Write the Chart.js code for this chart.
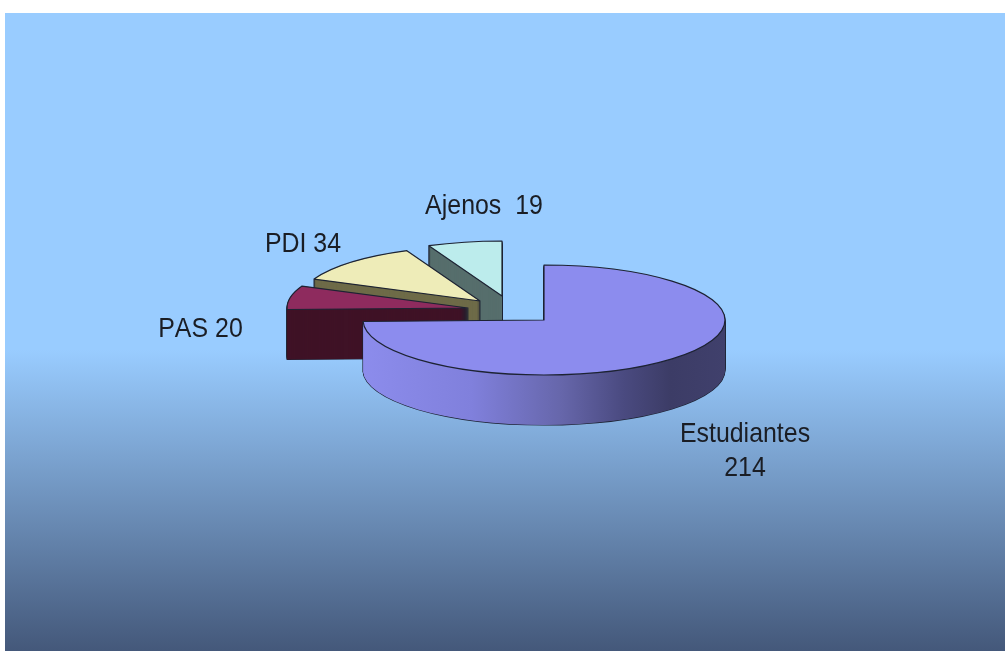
<!DOCTYPE html>
<html lang="en">
<head>
    <meta charset="UTF-8">
    <title>Estudiantes, PAS, PDI, Ajenos</title>
    <script src="https://cdn.jsdelivr.net/npm/chart.js"></script>
    <style>
        html, body { margin: 0; padding: 0; background: #fff; overflow: hidden; }
        canvas { display: block; filter: blur(0.6px); }
    </style>
</head>
<body>
    <canvas id="pieChart" width="1005" height="651"></canvas>

    <script>
        const categories = ['Estudiantes', 'PAS', 'PDI', 'Ajenos'];
        const values = [214, 20, 34, 19];
        const labelTexts = [['Estudiantes', '214'], ['PAS 20'], ['PDI 34'], ['Ajenos  19']];
        const topColors = ['#8c8cee', '#8e2b5e', '#eeecb8', '#bcecec'];
        const sideColors = ['#8c8cee', '#3f1226', '#6e6b48', '#566e6c'];

        // how the picture is squashed and pulled apart, in screen pixels
        const squash = 55 / 181;
        const depth = 50;
        const explodeX = [0, -76, -64, -42];
        const explodeY = [0, -12, -19, -24];
        const labelX = [745, 200.5, 303, 484];
        const labelY = [434, 329, 244, 206];

        function slicePath(ctx, arc, i, drop) {
            ctx.save();
            ctx.translate(arc.x + explodeX[i], arc.y + explodeY[i] + drop);
            ctx.scale(1, squash);
            ctx.beginPath();
            ctx.moveTo(0, 0);
            ctx.arc(0, 0, arc.outerRadius, arc.startAngle, arc.endAngle);
            ctx.closePath();
            ctx.restore();
        }

        function rimFill(ctx, arc) {
            const left = arc.x - arc.outerRadius;
            const width = arc.outerRadius * 2;
            const g = ctx.createLinearGradient(left, 0, left + width, 0);
            g.addColorStop(0, '#8c8cec');
            g.addColorStop(0.3, '#8080dc');
            g.addColorStop(0.55, '#6666aa');
            g.addColorStop(0.72, '#4a4a80');
            g.addColorStop(0.85, '#3c3c66');
            g.addColorStop(1, '#40406c');
            return g;
        }

        const pie3d = {
            id: 'pie3d',
            beforeDraw(chart) {
                const ctx = chart.ctx;
                const g = ctx.createLinearGradient(0, 350, 0, 651);
                g.addColorStop(0, '#99ccff');
                g.addColorStop(1, '#44587a');
                ctx.fillStyle = g;
                ctx.fillRect(5, 13, 1000, 638);
            },
            beforeDatasetsDraw(chart) {
                const ctx = chart.ctx;
                const arcs = chart.getDatasetMeta(0).data;
                ctx.lineJoin = 'round';
                // back slice first, Estudiantes last
                for (let i = arcs.length - 1; i >= 0; i--) {
                    const arc = arcs[i];
                    ctx.strokeStyle = '#1d2333';
                    ctx.lineWidth = 1.2;
                    for (let d = depth; d > 0; d--) {
                        slicePath(ctx, arc, i, d);
                        ctx.stroke();
                    }
                    ctx.fillStyle = i === 0 ? rimFill(ctx, arc) : sideColors[i];
                    for (let d = depth; d > 0; d--) {
                        slicePath(ctx, arc, i, d);
                        ctx.fill();
                    }
                    slicePath(ctx, arc, i, 0);
                    ctx.fillStyle = topColors[i];
                    ctx.fill();
                    ctx.stroke();
                }

                ctx.fillStyle = '#1a1d24';
                ctx.font = '28px "Liberation Sans"';
                ctx.fontKerning = 'none';
                ctx.textAlign = 'center';
                ctx.textBaseline = 'middle';
                labelTexts.forEach((lines, i) => {
                    lines.forEach((line, n) => {
                        ctx.save();
                        ctx.translate(labelX[i], labelY[i] + n * 34);
                        ctx.scale(0.89, 1);
                        ctx.fillText(line, 0, 0);
                        ctx.restore();
                    });
                });
                return false;
            }
        };

        new Chart(document.getElementById('pieChart'), {
            type: 'pie',
            data: {
                labels: categories,
                datasets: [{ data: values, backgroundColor: topColors }]
            },
            options: {
                responsive: false,
                animation: false,
                events: [],
                radius: 181,
                layout: { padding: { left: 83, bottom: 11 } },
                plugins: { legend: { display: false }, tooltip: { enabled: false } }
            },
            plugins: [pie3d]
        });
    </script>
</body>
</html>
